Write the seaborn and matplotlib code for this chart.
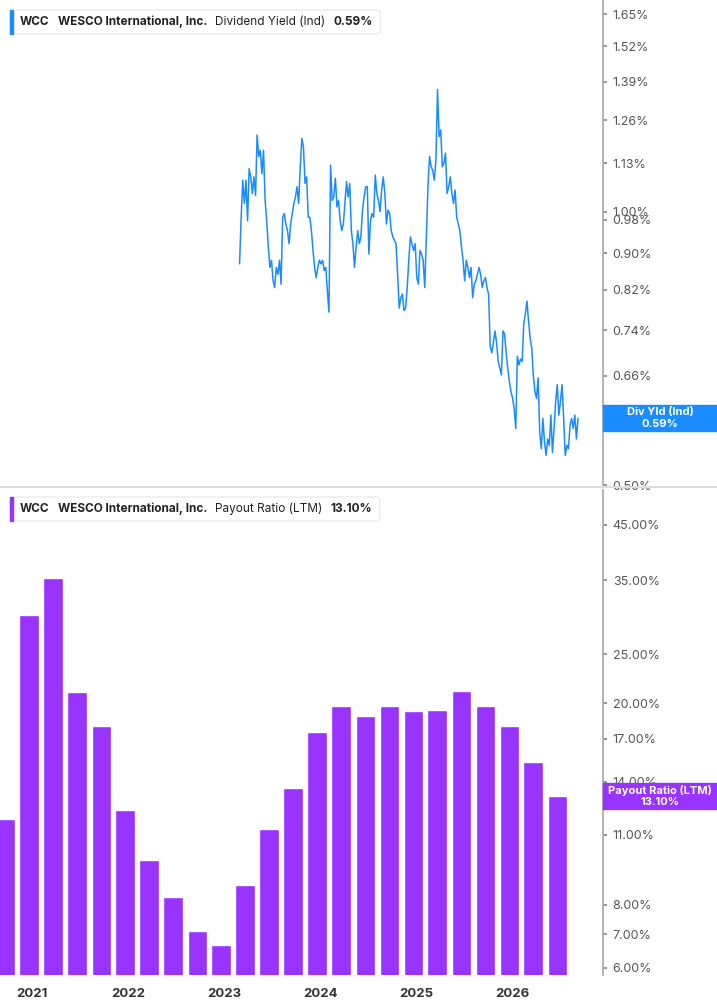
import numpy as np
import pandas as pd
import matplotlib
matplotlib.use("Agg")
import matplotlib.pyplot as plt
import matplotlib.dates as mdates
import seaborn as sns
from matplotlib.patches import FancyBboxPatch, Rectangle

sns.set_theme(style="white")
plt.rcParams["font.family"] = ["Inter", "DejaVu Sans"]

BLUE = "#1a8cff"
PURPLE = "#9933ff"

# dividend yield (%), roughly weekly samples Mar 2023 - Sep 2026
div_yield = [
    0.876, 0.986, 1.083, 1.021, 1.083, 0.977, 1.115, 1.092, 1.047, 1.092, 1.042, 1.214,
    1.150, 1.168, 1.101, 1.168, 1.029, 0.977, 0.914, 0.868, 0.884, 0.839, 0.825, 0.868,
    0.853, 0.884, 0.832, 0.986, 0.995, 0.969, 0.953, 0.922, 0.969, 0.995, 1.021, 1.038,
    1.065, 1.021, 1.120, 1.204, 1.179, 1.074, 1.092, 0.986, 0.986, 0.953, 0.906, 0.868,
    0.846, 0.868, 0.884, 0.876, 0.884, 0.861, 0.868, 0.818, 0.775, 1.125, 1.029, 1.038,
    1.088, 1.012, 1.029, 0.977, 0.953, 0.969, 1.021, 1.079, 1.038, 1.074, 0.953, 0.922,
    0.868, 0.914, 0.953, 0.922, 0.938, 1.004, 1.038, 1.065, 1.065, 0.898, 0.977, 0.995,
    0.986, 1.097, 1.047, 1.029, 1.000, 1.056, 1.092, 1.047, 0.969, 1.004, 0.995, 0.953,
    0.938, 0.930, 0.922, 0.853, 0.783, 0.804, 0.811, 0.778, 0.783, 0.825, 0.884, 0.938,
    0.922, 0.906, 0.922, 0.846, 0.832, 0.906, 0.898, 0.884, 0.825, 0.938, 1.065, 1.150,
    1.120, 1.110, 1.083, 1.140, 1.363, 1.209, 1.230, 1.120, 1.130, 1.160, 1.047, 1.065,
    1.092, 1.047, 1.021, 1.056, 0.986, 0.969, 0.953, 0.914, 0.884, 0.839, 0.884, 0.868,
    0.846, 0.868, 0.804, 0.832, 0.839, 0.853, 0.868, 0.853, 0.825, 0.839, 0.846, 0.825,
    0.811, 0.711, 0.699, 0.717, 0.739, 0.717, 0.684, 0.672, 0.661, 0.739, 0.733, 0.699,
    0.672, 0.650, 0.634, 0.623, 0.607, 0.577, 0.693, 0.678, 0.688, 0.684, 0.752, 0.771,
    0.797, 0.758, 0.726, 0.708, 0.661, 0.634, 0.623, 0.656, 0.572, 0.548, 0.592, 0.558,
    0.539, 0.562, 0.553, 0.597, 0.543, 0.577, 0.618, 0.645, 0.597, 0.618, 0.645, 0.592,
    0.539, 0.553, 0.548, 0.582, 0.592, 0.577, 0.597, 0.562, 0.592,
]
yield_start, yield_end = "2023-03-01", "2026-09-08"

# payout ratio (LTM, %), quarterly
payout = [
    11.8, 29.9, 35.3, 21.0, 18.0, 12.3, 9.8, 8.3, 7.1, 6.66, 8.75, 11.3,
    13.6, 17.5, 19.7, 18.9, 19.7, 19.3, 19.4, 21.1, 19.7, 18.0, 15.3, 13.1,
]
payout_start = "2020-09-01"

yield_ticks = [0.50, 0.66, 0.74, 0.82, 0.90, 0.98, 1.00, 1.13, 1.26, 1.39, 1.52, 1.65]
payout_ticks = [6, 7, 8, 11, 14, 17, 20, 25, 35, 45]

yield_df = pd.DataFrame({
    "date": pd.date_range(yield_start, yield_end, periods=len(div_yield)),
    "value": div_yield,
})
pay_dates = pd.date_range(payout_start, periods=len(payout), freq="QS-MAR") + pd.Timedelta(days=20)

W, H = 717, 1005
fig = plt.figure(figsize=(W / 100, H / 100), dpi=100)
renderer = fig.canvas.get_renderer()

xmin = pd.Timestamp("2020-09-01")
xmax = pd.Timestamp("2026-12-12")
ax_right = 603 / W


def style_axis(ax, ticks, fmt, ylim):
    ax.set_yscale("log")
    ax.set_ylim(*ylim)
    ax.yaxis.tick_right()
    ax.set_yticks(ticks)
    ax.set_yticklabels([fmt.format(t) for t in ticks])
    ax.yaxis.set_minor_locator(matplotlib.ticker.NullLocator())
    ax.tick_params(axis="y", right=True, length=3, color="#888888", labelsize=9,
                   labelcolor="#555555", pad=4)
    for s in ["top", "left", "bottom"]:
        ax.spines[s].set_visible(False)
    ax.spines["right"].set_color("#aaaaaa")
    ax.set_xlim(xmin, xmax)
    ax.set_xlabel("")
    ax.set_ylabel("")


# top: dividend yield
ax1 = fig.add_axes([0, 1 - 487 / H, ax_right, 487 / H])
sns.lineplot(data=yield_df, x="date", y="value", color=BLUE, linewidth=1.1, ax=ax1)
style_axis(ax1, yield_ticks, "{:.2f}%", (0.4975, 1.71))
ax1.set_xticks([])

# bottom: payout ratio
ax2 = fig.add_axes([0, 1 - 975 / H, ax_right, 485 / H])
ax2.bar(pay_dates, payout, width=74, color=PURPLE)
style_axis(ax2, payout_ticks, "{:.2f}%", (5.81, 52.7))
ax2.xaxis.set_major_locator(mdates.YearLocator())
ax2.xaxis.set_major_formatter(mdates.DateFormatter("%Y"))
ax2.tick_params(axis="x", bottom=False, labelsize=9.5, labelcolor="#333333", pad=3)
for lbl in ax2.get_xticklabels():
    lbl.set_fontweight("bold")

# separator
fig.add_artist(plt.Line2D([0, 1], [1 - 487.5 / H, 1 - 487.5 / H], color="#dddddd", lw=1.5))


def legend_box(y_px, color, parts):
    y0 = 1 - (y_px + 25) / H
    x = 20
    texts = []
    for txt, bold in parts:
        t = fig.text(x / W, y0 + 12 / H, txt, fontsize=8.5, va="center",
                     fontweight="bold" if bold else "normal", color="#222222", zorder=5)
        x += t.get_window_extent(renderer).width + 8
        texts.append(t)
    w_px = x - 10
    fig.add_artist(FancyBboxPatch((10 / W, y0), w_px / W, 24 / H,
                                  boxstyle="round,pad=0,rounding_size=0.004",
                                  fc="white", ec="#e6e6e6", lw=0.8, zorder=4))
    fig.add_artist(Rectangle((10 / W, y0), 3 / W, 24 / H, color=color, zorder=5))


legend_box(9, BLUE, [("WCC", True), ("WESCO International, Inc.", True),
                     ("Dividend Yield (Ind)", False), ("0.59%", True)])
legend_box(496, PURPLE, [("WCC", True), ("WESCO International, Inc.", True),
                         ("Payout Ratio (LTM)", False), ("13.10%", True)])


def value_tag(y_px, color, l1, l2):
    fig.add_artist(Rectangle((ax_right, 1 - (y_px + 13) / H), 1 - ax_right, 26 / H,
                             color=color, zorder=4))
    fig.text((ax_right + 1) / 2, 1 - (y_px - 6) / H, l1, ha="center", va="center",
             fontsize=8, color="white", fontweight="bold", zorder=5)
    fig.text((ax_right + 1) / 2, 1 - (y_px + 6) / H, l2, ha="center", va="center",
             fontsize=8, color="white", fontweight="bold", zorder=5)


value_tag(418, BLUE, "Div Yld (Ind)", "0.59%")
value_tag(796, PURPLE, "Payout Ratio (LTM)", "13.10%")

fig.savefig("out.png", dpi=100)
